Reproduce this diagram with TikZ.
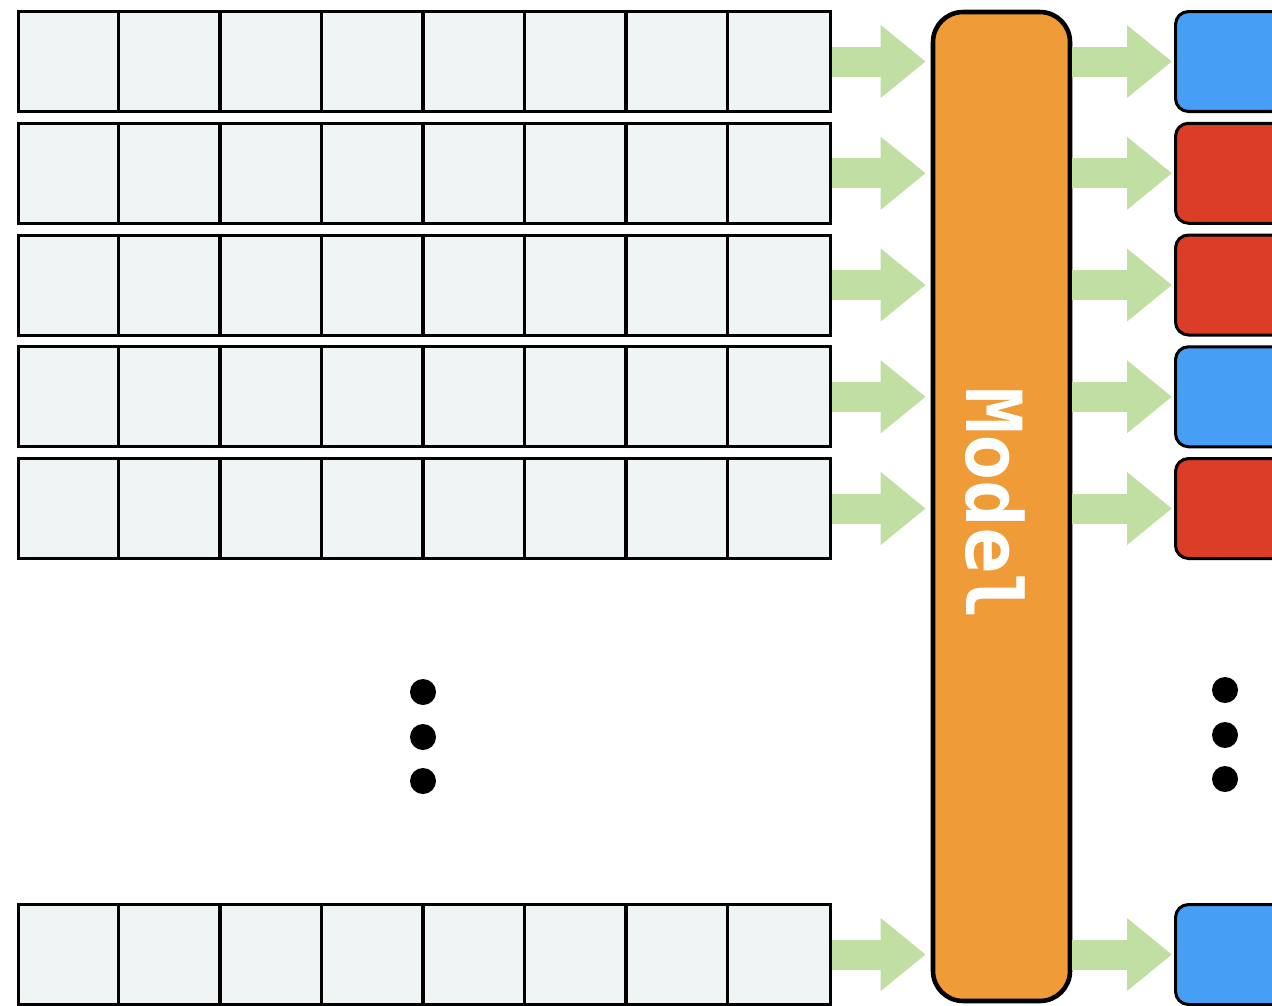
\documentclass[tikz,border=0pt]{standalone}
\usepackage{fontspec}
\usepackage{xcolor}
\usetikzlibrary{arrows.meta}
\newfontfamily\modelfont{DejaVu Sans Mono}
\definecolor{Cell}{HTML}{EFF5F4}
\definecolor{Leaf}{HTML}{C2DFA3}
\definecolor{Orange}{HTML}{EF9B38}
\definecolor{Blue}{HTML}{479FF5}
\definecolor{Red}{HTML}{DB3D26}
\tikzset{
  cellrow/.style={
    draw=black,line width=4.3pt,fill=Cell,anchor=north west,
    minimum width=40.6cm,minimum height=5cm,inner sep=0pt
  },
  model/.style={
    draw=black,line width=6.5pt,fill=Orange,rounded corners=1.5cm,
    minimum width=6.85cm,minimum height=49.45cm,inner sep=0pt
  },
  outbox/.style={
    draw=black,line width=4.3pt,rounded corners=0.65cm,anchor=north west,
    minimum width=6cm,minimum height=5cm,inner sep=0pt
  },
  flow/.style={
    draw=Leaf,line width=1.5cm,
    -{Triangle[length=2.25cm,width=3.5cm]}
  }
}

\begin{document}
\begin{tikzpicture}[x=0.05cm,y=-0.05cm]
  \clip (0,0) rectangle (1272,1005);
  \node[model] (model) at (1001.5,506.5) {};
  \node[rotate=-90,text=white,inner sep=0pt,
    font=\modelfont\bfseries\fontsize{110}{110}\selectfont]
    (modellabel) at (995,504) {Model};
  % input rows, model arrows and outputs
  \foreach \i/\y/\c in {1/10/Blue,2/121.75/Red,3/233.5/Red,4/345.25/Blue,5/457/Red,6/903/Blue} {
    \node[cellrow] (in\i) at (17,\y) {};
    \foreach \k in {1,...,7}
      \draw[line width=4.3pt] (17+\k*101.5,\y) -- ++(0,100);
    \node[outbox,fill=\c] (out\i) at (1174,\y) {};
    \draw[flow,shorten >=0.25cm] (in\i.east) -- (model.west |- in\i.east);
    \draw[flow,shorten >=0.1cm] (model.east |- out\i.west) -- (out\i.west);
  }
  % dots
  \foreach \y in {692,737,781}
    \fill (423,\y) circle[radius=0.65cm];
  \foreach \y in {690,735,779}
    \fill (1225,\y) circle[radius=0.65cm];
\end{tikzpicture}
\end{document}
